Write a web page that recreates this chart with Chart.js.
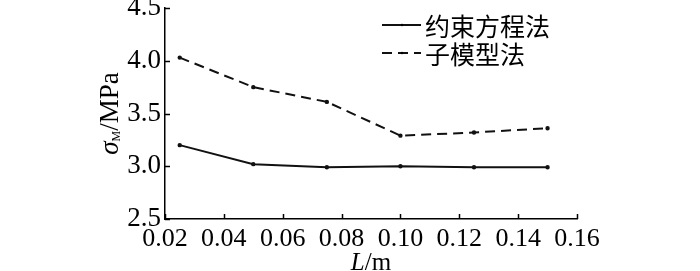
<!DOCTYPE html>
<html>
<head>
<meta charset="utf-8">
<script src="https://cdn.jsdelivr.net/npm/chart.js@4/dist/chart.umd.min.js"></script>
<style>
  html, body { margin: 0; padding: 0; background: #fff; }
  #wrap { width: 700px; height: 271px; }
</style>
</head>
<body>
<div id="wrap"><canvas id="chart"></canvas></div>
<script>
// data
const lengths = [0.025, 0.05, 0.075, 0.1, 0.125, 0.15]
const constraintEq = [3.20, 3.02, 2.99, 3.00, 2.99, 2.99]
const subModel = [4.03, 3.75, 3.61, 3.29, 3.32, 3.36]
const seriesNames = ['约束方程法', '子模型法']
const xTicks = [0.02, 0.04, 0.06, 0.08, 0.10, 0.12, 0.14, 0.16]
const yTicks = [2.5, 3.0, 3.5, 4.0, 4.5]

const serif = '"Liberation Serif", "Times New Roman", serif'
const cjk = '"Noto Sans CJK SC", sans-serif'

function toPoints(ys) {
    return lengths.map((x, i) => ({ x: x, y: ys[i] }))
}

// inward tick marks
const innerTicks = {
    id: 'innerTicks',
    afterDraw(chart) {
        const ctx = chart.ctx
        const xs = chart.scales.x
        const ys = chart.scales.y
        const a = chart.chartArea
        ctx.save()
        ctx.strokeStyle = '#000'
        ctx.lineWidth = 1.5
        ctx.beginPath()
        xTicks.forEach(v => {
            const px = Math.round(xs.getPixelForValue(v)) + 0.5
            ctx.moveTo(px, a.bottom)
            ctx.lineTo(px, a.bottom - 5)
        })
        yTicks.forEach(v => {
            const py = Math.round(ys.getPixelForValue(v)) + 0.5
            ctx.moveTo(a.left, py)
            ctx.lineTo(a.left + 5, py)
        })
        ctx.stroke()
        ctx.restore()
    }
}

// axis titles with italic symbols and subscript
const axisTitles = {
    id: 'axisTitles',
    afterDraw(chart) {
        const ctx = chart.ctx
        const a = chart.chartArea
        ctx.save()
        ctx.fillStyle = '#000'
        ctx.textBaseline = 'alphabetic'

        // x title: L/m
        let big = '25px ' + serif
        let ital = 'italic 25px ' + serif
        ctx.font = ital
        const wL = ctx.measureText('L').width
        ctx.font = big
        const wRest = ctx.measureText('/m').width
        let x0 = (a.left + a.right) / 2 - (wL + wRest) / 2
        const yb = 270
        ctx.font = ital
        ctx.fillText('L', x0, yb)
        ctx.font = big
        ctx.fillText('/m', x0 + wL, yb)

        // y title: sigma_M/MPa
        big = '27px ' + serif
        ital = 'italic 27px ' + serif
        const sub = '12px ' + serif
        ctx.translate(118, (a.top + a.bottom) / 2)
        ctx.rotate(-Math.PI / 2)
        ctx.font = ital
        const wS = ctx.measureText('σ').width
        ctx.font = sub
        const wM = ctx.measureText('M').width
        ctx.font = big
        const wU = ctx.measureText('/MPa').width
        x0 = -(wS + wM + wU) / 2
        ctx.font = ital
        ctx.fillText('σ', x0, 0)
        ctx.font = sub
        ctx.fillText('M', x0 + wS, 2)
        ctx.font = big
        ctx.fillText('/MPa', x0 + wS + wM, 0)
        ctx.restore()
    }
}

// legend in the top right corner
const cornerLegend = {
    id: 'cornerLegend',
    afterDraw(chart) {
        const ctx = chart.ctx
        ctx.save()
        chart.data.datasets.forEach((ds, i) => {
            const y = 25 + i * 28
            ctx.strokeStyle = ds.borderColor
            ctx.lineWidth = ds.borderWidth
            ctx.setLineDash(ds.borderDash || [])
            ctx.beginPath()
            ctx.moveTo(382, y)
            ctx.lineTo(421, y)
            ctx.stroke()
            ctx.setLineDash([])
            ctx.fillStyle = '#000'
            ctx.beginPath()
            ctx.arc(402, y, 1.2, 0, Math.PI * 2)
            ctx.fill()
            ctx.font = '25px ' + cjk
            ctx.textBaseline = 'middle'
            ctx.fillText(ds.label, 425, y + 1)
        })
        ctx.restore()
    }
}

var ctx = document.getElementById('chart')
var chart = new Chart(ctx, {
    type: 'line',
    data: {
        datasets: [{
            label: seriesNames[0],
            data: toPoints(constraintEq),
            borderColor: '#111',
            backgroundColor: '#111',
            borderWidth: 2,
            pointRadius: 1.2,
            pointHoverRadius: 1.2,
            tension: 0
        }, {
            label: seriesNames[1],
            data: toPoints(subModel),
            borderColor: '#111',
            backgroundColor: '#111',
            borderWidth: 2,
            borderDash: [10, 6],
            pointRadius: 1.2,
            pointHoverRadius: 1.2,
            tension: 0
        }]
    },
    options: {
        responsive: true,
        maintainAspectRatio: false,
        animation: false,
        layout: {
            padding: { left: 0, right: 123, top: 8, bottom: 0 }
        },
        plugins: {
            legend: { display: false },
            tooltip: { enabled: false }
        },
        scales: {
            x: {
                type: 'linear',
                min: 0.02,
                max: 0.16,
                afterBuildTicks: s => { s.ticks = xTicks.map(v => ({ value: v })) },
                afterFit: s => {
                    s.height = 52
                    s.paddingLeft = 0
                    s.paddingRight = 0
                },
                ticks: {
                    callback: v => v.toFixed(2),
                    font: { family: serif, size: 26 },
                    color: '#000',
                    padding: 5,
                    maxRotation: 0,
                    autoSkip: false
                },
                grid: { display: true, drawOnChartArea: false, drawTicks: false },
                border: { color: '#000', width: 1.5 }
            },
            y: {
                min: 2.5,
                max: 4.5,
                afterBuildTicks: s => { s.ticks = yTicks.map(v => ({ value: v })) },
                afterFit: s => {
                    s.width = 165
                    s.paddingTop = 0
                    s.paddingBottom = 0
                },
                ticks: {
                    callback: v => v.toFixed(1),
                    font: { family: serif, size: 27 },
                    color: '#000',
                    padding: 4
                },
                grid: { display: true, drawOnChartArea: false, drawTicks: false },
                border: { color: '#000', width: 1.5 }
            }
        }
    },
    plugins: [innerTicks, axisTitles, cornerLegend]
})
</script>
</body>
</html>
